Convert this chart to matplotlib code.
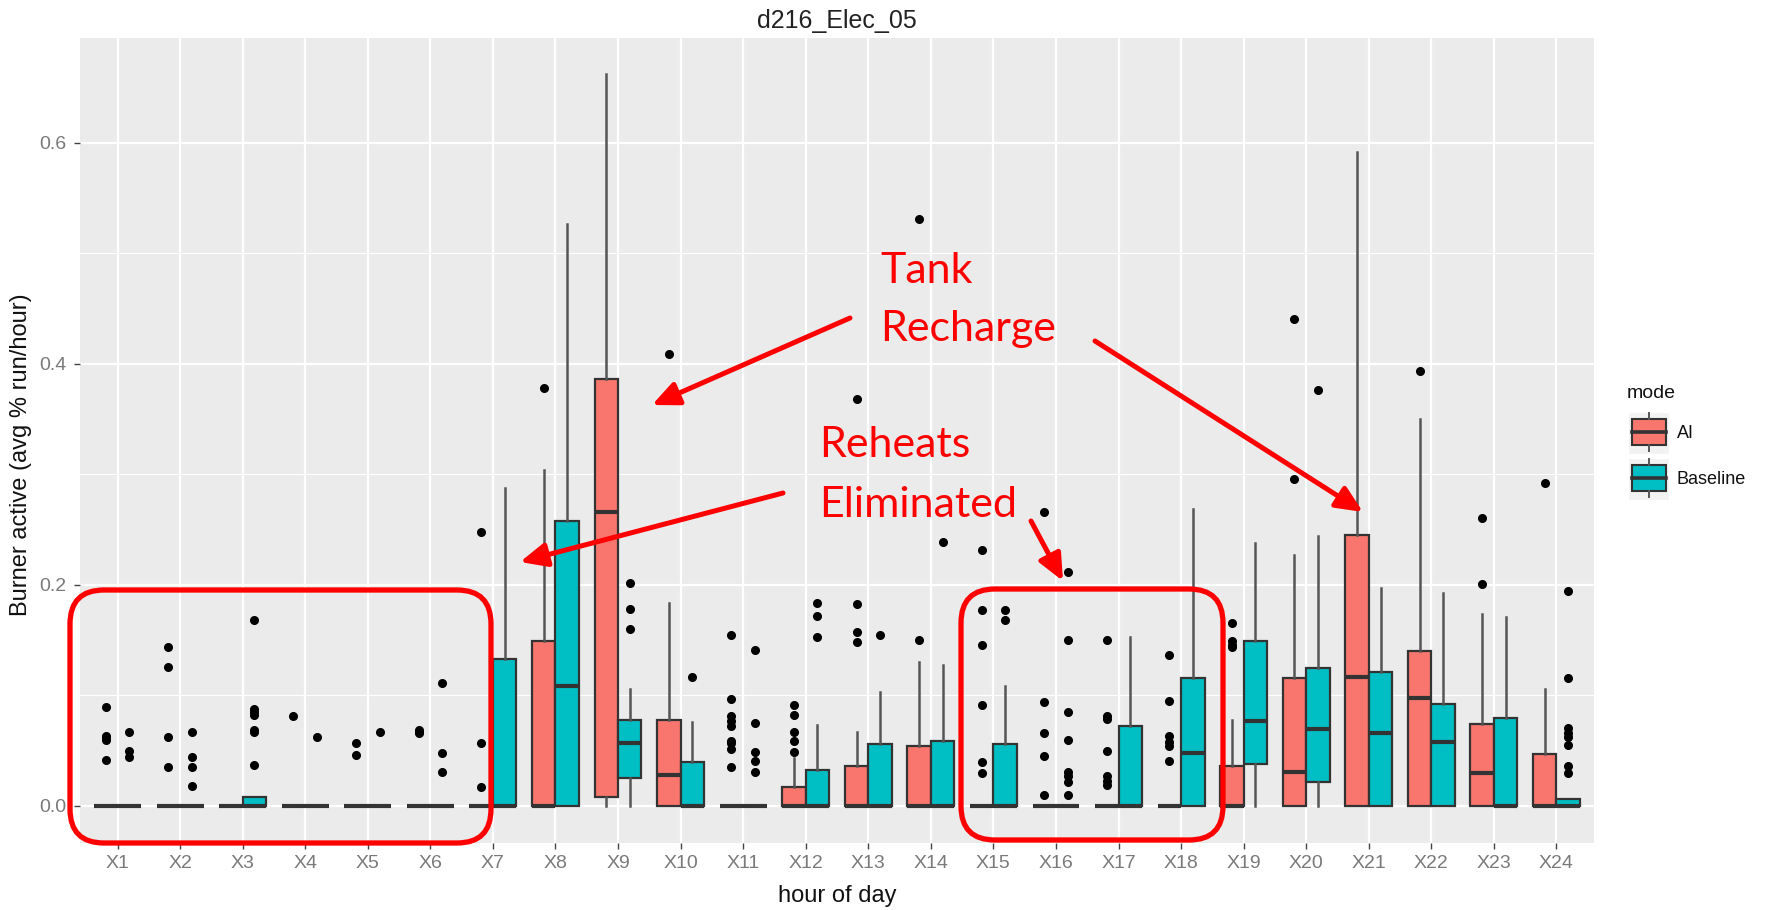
import matplotlib
matplotlib.use("Agg")
import matplotlib.pyplot as plt
from matplotlib.patches import FancyBboxPatch, FancyArrowPatch, Rectangle
from matplotlib.lines import Line2D
from matplotlib.transforms import IdentityTransform

plt.rcParams["font.family"] = ["Liberation Sans", "DejaVu Sans"]

# data
hours = [f"X{i}" for i in range(1, 25)]

ai_q1 = [0, 0, 0, 0, 0, 0, 0, 0, 0.0085, 0, 0, 0, 0, 0, 0, 0, 0, 0, 0, 0, 0, 0, 0, 0]
ai_med = [0, 0, 0, 0, 0, 0, 0, 0, 0.266, 0.028, 0, 0, 0, 0, 0, 0, 0, 0, 0, 0.031, 0.117, 0.098, 0.030, 0]
ai_q3 = [0, 0, 0, 0, 0, 0, 0, 0.149, 0.386, 0.078, 0, 0.0175, 0.036, 0.054, 0, 0, 0, 0, 0.036, 0.116, 0.245, 0.140, 0.074, 0.047]
ai_lo = [0] * 24
ai_hi = [0, 0, 0, 0, 0, 0, 0, 0.304, 0.662, 0.184, 0, 0.043, 0.067, 0.130, 0, 0, 0, 0, 0.078, 0.227, 0.592, 0.350, 0.174, 0.106]
ai_out = [
    [0.090, 0.063, 0.062, 0.060, 0.042],
    [0.144, 0.126, 0.062, 0.035],
    [],
    [0.081],
    [0.057, 0.046],
    [0.069, 0.067, 0.066],
    [0.248, 0.057, 0.017],
    [0.378],
    [],
    [0.409],
    [0.155, 0.097, 0.081, 0.077, 0.072, 0.059, 0.057, 0.052, 0.035],
    [0.091, 0.082, 0.067, 0.059, 0.049],
    [0.368, 0.183, 0.157, 0.148],
    [0.531, 0.150],
    [0.232, 0.177, 0.146, 0.091, 0.040, 0.030],
    [0.266, 0.094, 0.066, 0.045, 0.010],
    [0.150, 0.081, 0.079, 0.050, 0.027, 0.023, 0.019],
    [0.137, 0.095, 0.063, 0.058, 0.054, 0.041],
    [0.166, 0.149, 0.146, 0.144],
    [0.441, 0.296],
    [],
    [0.394],
    [0.261, 0.201],
    [0.292],
]

bl_q1 = [0, 0, 0, 0, 0, 0, 0, 0, 0.025, 0, 0, 0, 0, 0, 0, 0, 0, 0, 0.038, 0.022, 0, 0, 0, 0]
bl_med = [0, 0, 0, 0, 0, 0, 0, 0.109, 0.057, 0, 0, 0, 0, 0, 0, 0, 0, 0.048, 0.077, 0.070, 0.066, 0.058, 0, 0]
bl_q3 = [0, 0, 0.0085, 0, 0, 0, 0.133, 0.258, 0.078, 0.0395, 0, 0.033, 0.056, 0.059, 0.056, 0, 0.072, 0.116, 0.149, 0.125, 0.1216, 0.092, 0.080, 0.0063]
bl_lo = [0] * 24
bl_hi = [0, 0, 0.0085, 0, 0, 0, 0.288, 0.527, 0.106, 0.076, 0, 0.073, 0.103, 0.128, 0.109, 0, 0.153, 0.269, 0.238, 0.244, 0.197, 0.193, 0.171, 0.0063]
bl_out = [
    [0.067, 0.050, 0.044],
    [0.067, 0.044, 0.035, 0.018],
    [0.168, 0.088, 0.085, 0.082, 0.069, 0.067, 0.037],
    [0.062],
    [0.067],
    [0.111, 0.048, 0.031],
    [],
    [],
    [0.202, 0.178, 0.160],
    [0.117],
    [0.141, 0.075, 0.049, 0.041, 0.031],
    [0.184, 0.172, 0.153],
    [0.155],
    [0.239],
    [0.177, 0.168],
    [0.212, 0.150, 0.085, 0.060, 0.031, 0.027, 0.022, 0.010],
    [],
    [],
    [],
    [0.376],
    [],
    [],
    [],
    [0.195, 0.116, 0.071, 0.066, 0.062, 0.055, 0.036, 0.030],
]

modes = ["AI", "Baseline"]
colors = ["#F8766D", "#00BFC4"]

W, H = 1770, 910
fig = plt.figure(figsize=(W / 100, H / 100), dpi=100)
ax = fig.add_axes([80 / W, (H - 843) / H, 1514 / W, 805 / H])
ax.set_facecolor("#EBEBEB")
for s in ax.spines.values():
    s.set_visible(False)


def stats(q1, med, q3, lo, hi, out):
    return [dict(q1=a, med=b, q3=c, whislo=d, whishi=e, fliers=f)
            for a, b, c, d, e, f in zip(q1, med, q3, lo, hi, out)]


pos = list(range(1, 25))
groups = [stats(ai_q1, ai_med, ai_q3, ai_lo, ai_hi, ai_out),
          stats(bl_q1, bl_med, bl_q3, bl_lo, bl_hi, bl_out)]
for k, (st, col) in enumerate(zip(groups, colors)):
    off = -0.1875 if k == 0 else 0.1875
    ax.bxp(st, positions=[p + off for p in pos], widths=0.375,
           patch_artist=True, showcaps=False, manage_ticks=False,
           boxprops=dict(facecolor=col, edgecolor="#333333", linewidth=1.6),
           medianprops=dict(color="#333333", linewidth=3.0, solid_capstyle="butt"),
           whiskerprops=dict(color="#555555", linewidth=1.8),
           flierprops=dict(marker="o", markerfacecolor="black",
                           markeredgecolor="black", markersize=5.5))

ax.set_xlim(0.4, 24.6)
ax.set_ylim(-0.0335, 0.695)
ax.set_xticks(pos)
ax.set_xticklabels(hours)
ax.set_yticks([0, 0.2, 0.4, 0.6])
ax.set_yticklabels(["0.0", "0.2", "0.4", "0.6"])
ax.set_yticks([0.1, 0.3, 0.5], minor=True)
ax.grid(True, which="major", color="white", linewidth=1.6)
ax.grid(True, which="minor", axis="y", color="white", linewidth=0.8)
ax.set_axisbelow(True)
ax.tick_params(axis="both", which="major", length=4, width=1, color="#444444",
               labelsize=14, labelcolor="#7a7a7a")
ax.tick_params(axis="x", pad=5)
ax.tick_params(axis="y", pad=6)
ax.tick_params(which="minor", length=0)

ax.set_title("d216_Elec_05", fontsize=18, color="#222222", pad=7)
ax.set_xlabel("hour of day", fontsize=17, color="#111111")
ax.set_ylabel("Burner active (avg % run/hour)", fontsize=17, color="#111111")
ax.xaxis.set_label_coords(0.5, (843 - 896) / 805)
ax.xaxis.label.set_va("center")
ax.yaxis.set_label_coords((21 - 80) / 1514, (843 - 455) / 805)
ax.yaxis.label.set_va("center")

# legend drawn by hand in pixel coordinates (top-left origin)
ident = IdentityTransform()


def P(x, y):
    return (x, H - y)


fig.text(1627 / W, 1 - 393 / H, "mode", fontsize=14, va="center", ha="left", color="#111111")
for i, (m, col) in enumerate(zip(modes, colors)):
    top = 412 + i * 46
    fig.add_artist(Rectangle(P(1628, top + 42), 41, 42, transform=ident,
                             facecolor="#F2F2F2", edgecolor="white", lw=1))
    fig.add_artist(Rectangle(P(1632, top + 33), 34, 26, transform=ident,
                             facecolor=col, edgecolor="#333333", lw=1.5))
    fig.add_artist(Line2D([1632, 1666], [H - top - 20, H - top - 20], transform=ident,
                          color="#333333", lw=2.6))
    fig.add_artist(Line2D([1649, 1649], [H - top - 1, H - top - 7], transform=ident,
                          color="#555555", lw=1.4))
    fig.add_artist(Line2D([1649, 1649], [H - top - 33, H - top - 39], transform=ident,
                          color="#555555", lw=1.4))
    fig.text(1677 / W, 1 - (top + 21) / H, m, fontsize=13, va="center", ha="left", color="#111111")

# red call-outs
red = "#FF0000"
for (x0, y0, x1, y1) in [(70, 590, 491, 843), (961, 589, 1223, 840)]:
    fig.add_artist(FancyBboxPatch(P(x0, y1), x1 - x0, y1 - y0,
                                  boxstyle="round,pad=0,rounding_size=34",
                                  transform=ident, fill=False, edgecolor=red, lw=3.8))

for (xa, ya, xb, yb) in [(850, 318, 652, 405), (1095, 341, 1363, 512),
                         (783, 493, 520, 562), (1031, 521, 1063, 581)]:
    fig.add_artist(FancyArrowPatch(P(xa, ya), P(xb, yb), transform=ident,
                                   arrowstyle="-|>,head_length=1.0,head_width=0.45",
                                   mutation_scale=16, color=red, lw=3.6,
                                   shrinkA=0, shrinkB=0))

for (x, y, s) in [(880, 283, "Tank"), (880, 341, "Recharge"),
                  (819, 457, "Reheats"), (819, 517, "Eliminated")]:
    fig.text(x / W, 1 - y / H, s, fontsize=31, color=red, family="Lato",
             ha="left", va="baseline")

fig.savefig("out.png", dpi=100, facecolor="white")
